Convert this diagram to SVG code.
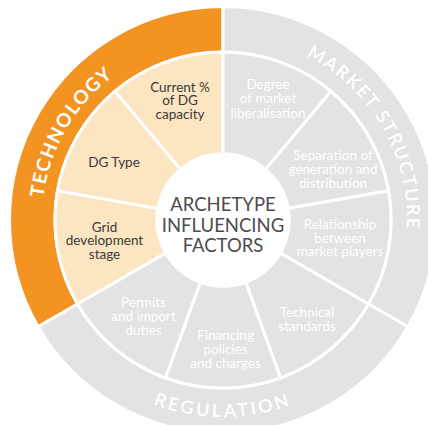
<svg xmlns="http://www.w3.org/2000/svg" width="428" height="425" viewBox="0 0 428 425">
<defs>
<style>
.seg { stroke:#ffffff; stroke-width:3; stroke-linejoin:miter; }
.orange { fill:#F39322; }
.gray { fill:#E3E3E3; }
.beige { fill:#FCE5C1; }
.lbl { font-family:Lato, "Open Sans", sans-serif; font-size:13.5px; text-anchor:middle; }
.dark { fill:#3A3A3A; }
.light { fill:#FFFFFF; }
.title { font-family:Lato, "Open Sans", sans-serif; font-size:18.5px; fill:#4D4D4D; text-anchor:middle; }
.band { font-family:Lato, "Open Sans", sans-serif; fill:#FFFFFF; text-anchor:middle; }
</style>
<path id="arcTech" d="M 66.25 310.5 A 181 181 0 0 1 223 39"/>
<path id="arcMarket" d="M 223 36 A 184 184 0 0 1 382.35 312"/>
<path id="arcReg" d="M 52.39 318.5 A 197 197 0 0 0 393.61 318.5"/>
</defs>
<rect width="428" height="425" fill="#FFFFFF"/>

<g id="technology">
<path class="seg orange" d="M 38.10 326.75 A 213.5 213.5 0 0 1 223 6.5 L 223 52 A 168 168 0 0 0 77.51 304 Z"/>
<text class="band" font-size="19" font-weight="700" letter-spacing="1.5"><textPath href="#arcTech" startOffset="50%">TECHNOLOGY</textPath></text>
</g>
<g id="market-structure">
<path class="seg gray" d="M 223 6.5 A 213.5 213.5 0 0 1 407.90 326.75 L 368.49 304 A 168 168 0 0 0 223 52 Z"/>
<text class="band" font-size="18" font-weight="600" letter-spacing="2"><textPath href="#arcMarket" startOffset="50%">MARKET STRUCTURE</textPath></text>
</g>
<g id="regulation">
<path class="seg gray" d="M 407.90 326.75 A 213.5 213.5 0 0 1 38.10 326.75 L 77.51 304 A 168 168 0 0 0 368.49 304 Z"/>
<text class="band" font-size="18" font-weight="600" letter-spacing="3"><textPath href="#arcReg" startOffset="50%">REGULATION</textPath></text>
</g>

<g id="grid-development-stage">
<path class="seg beige" d="M 77.51 304 A 168 168 0 0 1 57.55 190.83 L 158.00 208.54 A 66 66 0 0 0 165.84 253 Z"/>
<text class="lbl dark"><tspan x="104.5" y="231.5">Grid</tspan><tspan x="104.5" y="245">development</tspan><tspan x="104.5" y="258.5">stage</tspan></text>
</g>
<g id="dg-type">
<path class="seg beige" d="M 57.55 190.83 A 168 168 0 0 1 115.01 91.30 L 180.58 169.44 A 66 66 0 0 0 158.00 208.54 Z"/>
<text class="lbl dark" x="114" y="166.5">DG Type</text>
</g>
<g id="current-dg-capacity">
<path class="seg beige" d="M 115.01 91.30 A 168 168 0 0 1 223 52 L 223 154 A 66 66 0 0 0 180.58 169.44 Z"/>
<text class="lbl dark"><tspan x="180" y="91.5">Current %</tspan><tspan x="180" y="105">of DG</tspan><tspan x="180" y="118.5">capacity</tspan></text>
</g>
<g id="degree-liberalisation">
<path class="seg gray" d="M 223 52 A 168 168 0 0 1 330.99 91.30 L 265.42 169.44 A 66 66 0 0 0 223 154 Z"/>
<text class="lbl light"><tspan x="268" y="88.5">Degree</tspan><tspan x="268" y="103">of market</tspan><tspan x="268" y="117.5">liberalisation</tspan></text>
</g>
<g id="separation">
<path class="seg gray" d="M 330.99 91.30 A 168 168 0 0 1 388.45 190.83 L 288.00 208.54 A 66 66 0 0 0 265.42 169.44 Z"/>
<text class="lbl light"><tspan x="333" y="160">Separation of</tspan><tspan x="333" y="174">generation and</tspan><tspan x="333" y="187.5">distribution</tspan></text>
</g>
<g id="relationship">
<path class="seg gray" d="M 388.45 190.83 A 168 168 0 0 1 368.49 304 L 280.16 253 A 66 66 0 0 0 288.00 208.54 Z"/>
<text class="lbl light"><tspan x="340" y="228.5">Relationship</tspan><tspan x="340" y="242.5">between</tspan><tspan x="340" y="256">market players</tspan></text>
</g>
<g id="technical-standards">
<path class="seg gray" d="M 368.49 304 A 168 168 0 0 1 280.46 377.87 L 245.57 282.02 A 66 66 0 0 0 280.16 253 Z"/>
<text class="lbl light"><tspan x="307" y="317">Technical</tspan><tspan x="307" y="331">standards</tspan></text>
</g>
<g id="financing">
<path class="seg gray" d="M 280.46 377.87 A 168 168 0 0 1 165.54 377.87 L 200.43 282.02 A 66 66 0 0 0 245.57 282.02 Z"/>
<text class="lbl light"><tspan x="225.5" y="340">Financing</tspan><tspan x="225.5" y="354">policies</tspan><tspan x="225.5" y="367.5">and charges</tspan></text>
</g>
<g id="permits">
<path class="seg gray" d="M 165.54 377.87 A 168 168 0 0 1 77.51 304 L 165.84 253 A 66 66 0 0 0 200.43 282.02 Z"/>
<text class="lbl light"><tspan x="143.5" y="307">Permits</tspan><tspan x="143.5" y="321">and import</tspan><tspan x="143.5" y="335">duties</tspan></text>
</g>

<g id="center">
<circle class="seg" cx="223" cy="220" r="66" fill="#FFFFFF"/>
<text class="title"><tspan x="223" y="211">ARCHETYPE</tspan><tspan x="223" y="231.5">INFLUENCING</tspan><tspan x="223" y="251.5">FACTORS</tspan></text>
</g>

<g id="connectors"/>
</svg>
